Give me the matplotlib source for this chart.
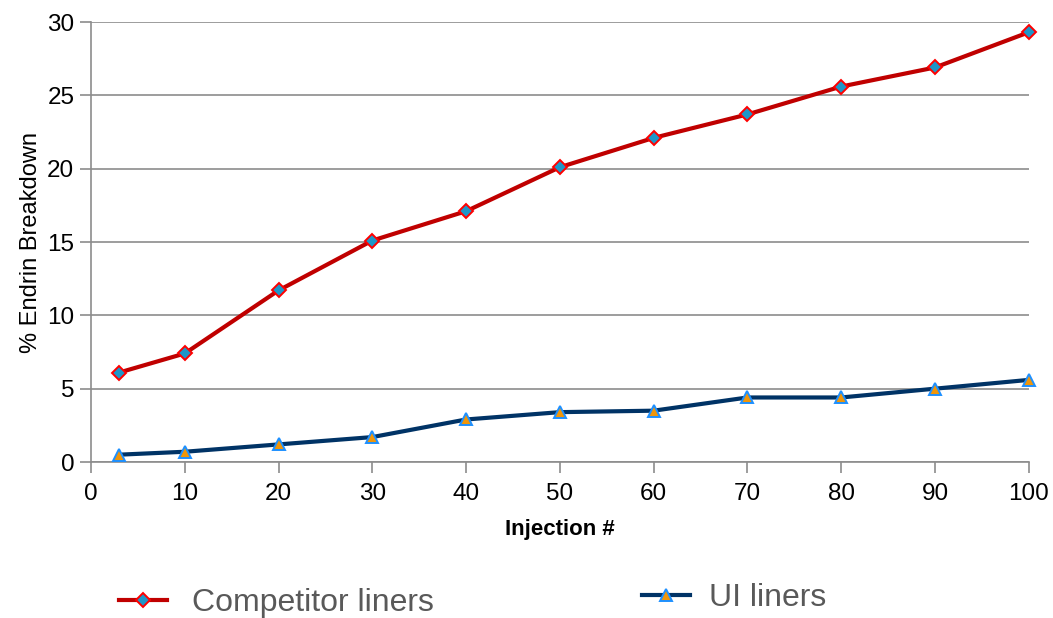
import matplotlib
matplotlib.use("Agg")
import matplotlib.pyplot as plt

plt.rcParams['font.family'] = ['Liberation Sans', 'DejaVu Sans']

injections = [3, 10, 20, 30, 40, 50, 60, 70, 80, 90, 100]
competitor = [6.1, 7.4, 11.7, 15.1, 17.1, 20.1, 22.1, 23.7, 25.6, 26.9, 29.3]
ui_liners = [0.5, 0.7, 1.2, 1.7, 2.9, 3.4, 3.5, 4.4, 4.4, 5.0, 5.6]
xticks = [0, 10, 20, 30, 40, 50, 60, 70, 80, 90, 100]
yticks = [0, 5, 10, 15, 20, 25, 30]
series_names = ["Competitor liners", "UI liners"]

fig = plt.figure(figsize=(10.53, 6.18), dpi=100)
ax = fig.add_axes([0.0864, 0.2524, 0.8906, 0.712])

red = "#C00000"
navy = "#003366"
l1, = ax.plot(injections, competitor, color=red, lw=3, marker='D', ms=7.5,
              mfc="#1E96C8", mec="#FF0000", mew=1.4, zorder=3, clip_on=False)
l2, = ax.plot(injections, ui_liners, color=navy, lw=3, marker='^', ms=8.5,
              mfc="#F0960A", mec="#1E90FF", mew=1.4, zorder=3, clip_on=False)

ax.set_xlim(0, 100)
ax.set_ylim(0, 30)
ax.set_xticks(xticks)
ax.set_yticks(yticks)
ax.grid(axis='y', color='#8C8C8C', lw=1.2)
ax.set_axisbelow(True)
for s in ['top', 'right']:
    ax.spines[s].set_visible(False)
for s in ['left', 'bottom']:
    ax.spines[s].set_color('#8C8C8C')
    ax.spines[s].set_linewidth(1.2)
ax.tick_params(axis='both', colors='#8C8C8C', labelcolor='black', labelsize=17.5,
               length=8, width=1.2)
ax.tick_params(axis='x', pad=7)
ax.tick_params(axis='y', pad=4)
ax.set_xlabel("Injection #", fontsize=16, fontweight='bold', labelpad=10)
ax.set_ylabel("% Endrin Breakdown", fontsize=17, labelpad=4)

leg1 = fig.legend([l1], [series_names[0]], loc='center left',
                  bbox_to_anchor=(0.113, 0.024), frameon=False,
                  fontsize=23, handlelength=1.5, handletextpad=0.8,
                  borderaxespad=0, borderpad=0)
leg2 = fig.legend([l2], [series_names[1]], loc='center left',
                  bbox_to_anchor=(0.610, 0.032), frameon=False,
                  fontsize=23, handlelength=1.5, handletextpad=0.6,
                  borderaxespad=0, borderpad=0)
for leg in (leg1, leg2):
    for t in leg.get_texts():
        t.set_color('#595959')

fig.savefig("out.png", dpi=100)
